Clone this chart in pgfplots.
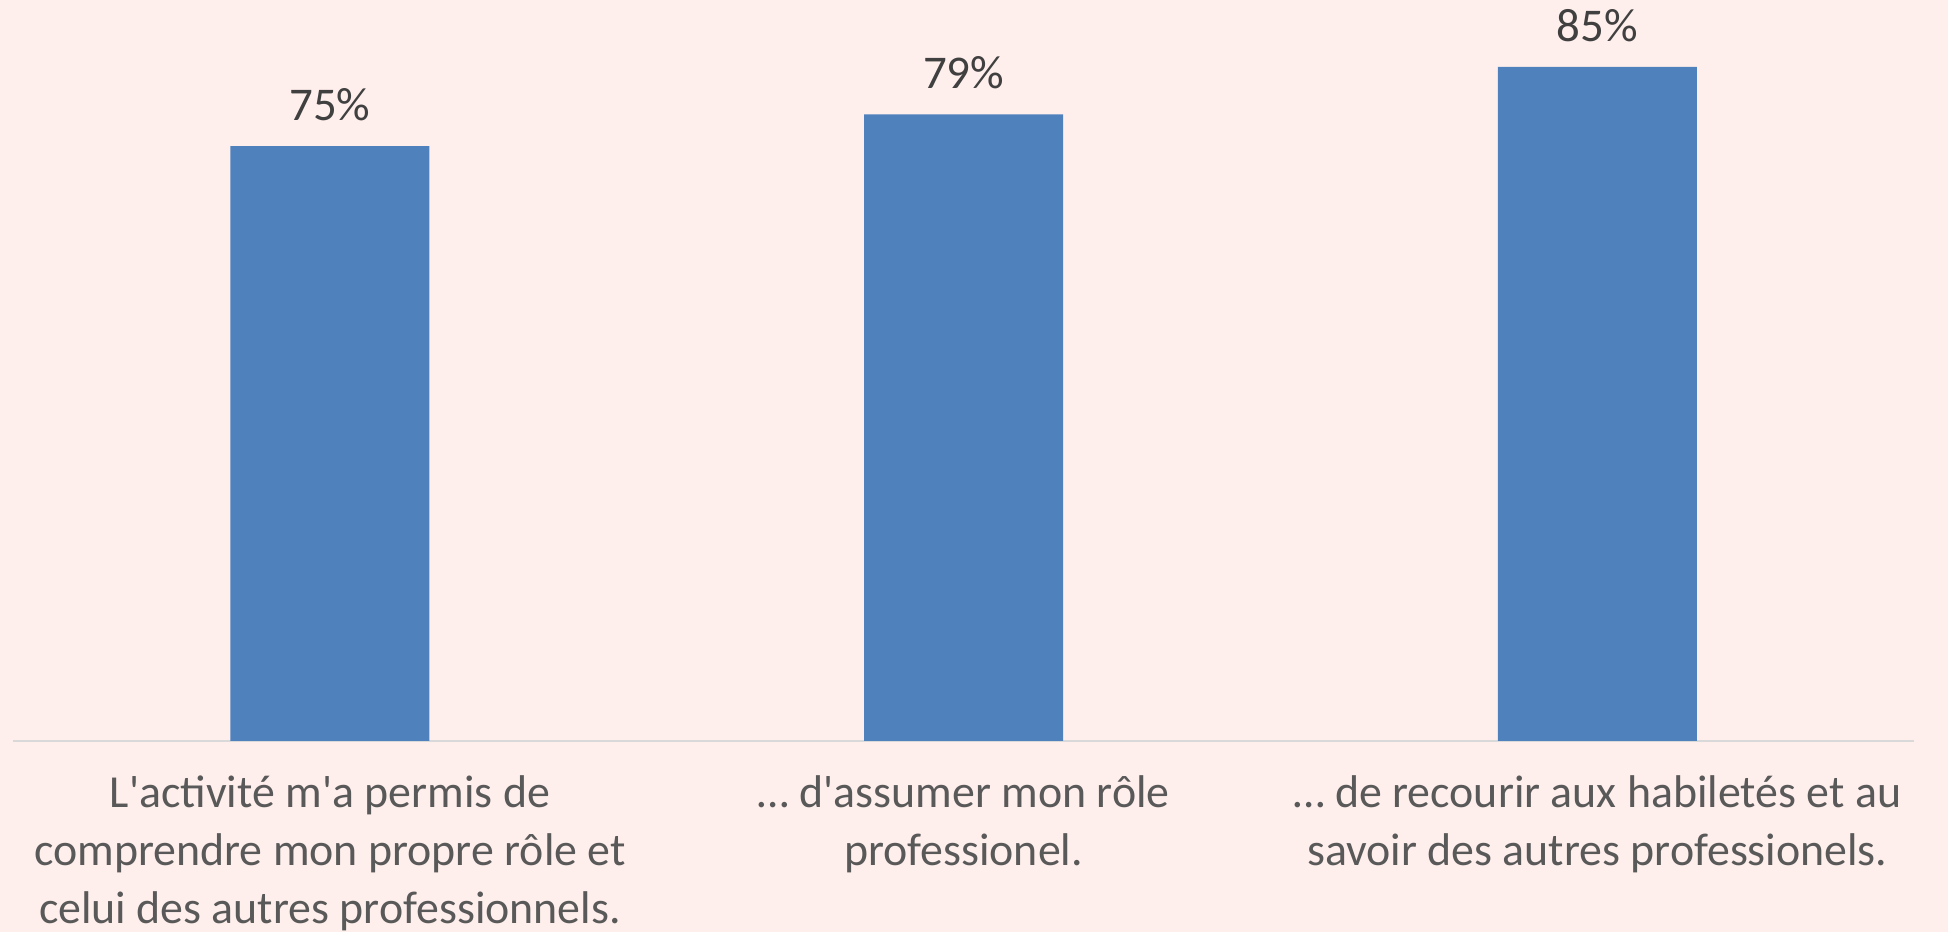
\documentclass[border=0pt]{standalone}
\usepackage{fontspec}
\setmainfont{Carlito}[Ligatures=TeXOff]
\usepackage{pgfplots}
\pgfplotsset{compat=1.18}
\definecolor{bg}{HTML}{FFEFEC}
\definecolor{barblue}{HTML}{4F81BD}
\definecolor{axisgray}{HTML}{D9D9D9}
\definecolor{lblgray}{HTML}{595959}
\definecolor{valgray}{HTML}{404040}
\begin{document}
\begin{tikzpicture}
% 1 px of the reference = 0.375pt
\fill[bg] (0,0) rectangle (730.5pt,349.5pt);
\begin{axis}[
  at={(4.9pt,71.7pt)}, anchor=south west,
  width=712.9pt, height=267.6pt, scale only axis,
  ybar, bar width=74.6pt,
  xmin=-0.5, xmax=2.5, ymin=0, ymax=90,
  axis y line=none, axis x line*=bottom,
  x axis line style={-, axisgray, line width=0.8pt},
  xtick={0,1,2}, major tick length=0pt,
  /pgf/number format/assume math mode=true,
  xticklabels={
    {L'activité m'a permis de\\comprendre mon propre rôle et\\celui des autres professionnels.},
    {… d'assumer mon rôle\\professionel.},
    {… de recourir aux habiletés et au\\savoir des autres professionels.}},
  xticklabel style={align=center, anchor=north, inner sep=0pt, yshift=-13pt,
    font=\fontsize{17.2}{21.6}\selectfont, text=lblgray},
  nodes near coords={\pgfmathprintnumber{\pgfplotspointmeta}\%},
  nodes near coords style={font=\fontsize{17.6}{21.6}\selectfont, text=valgray,
    anchor=south, inner sep=0pt, yshift=9.2pt},
  clip=false]
\addplot[draw=none, fill=barblue] coordinates {(0,75) (1,79) (2,85)};
\end{axis}
\pgfresetboundingbox
\path[use as bounding box] (0,0) rectangle (730.5pt,349.5pt);
\end{tikzpicture}
\end{document}
